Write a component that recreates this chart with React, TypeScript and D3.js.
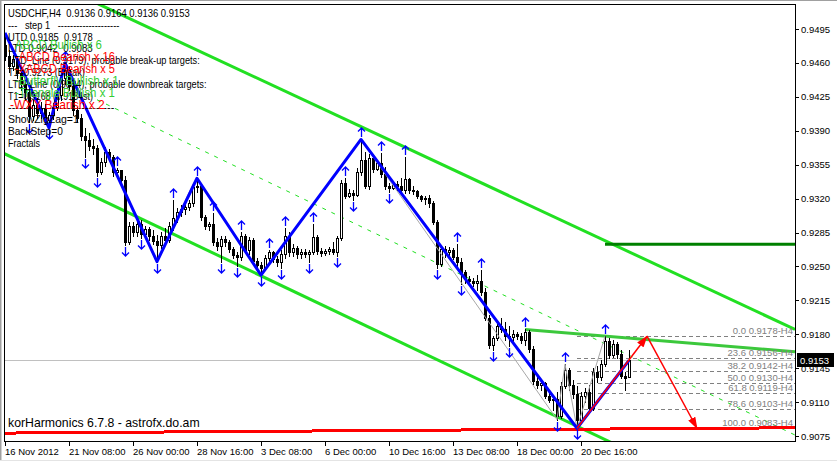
import React, { useRef, useLayoutEffect } from "react";
import * as d3 from "d3";

// USDCHF H4 candles, one per bar (bar 0 = 16 Nov 2012)
const opens = [
  0.9479, 0.9467, 0.9457, 0.9464, 0.945, 0.9438, 0.943, 0.9405, 0.9417, 0.9408,
  0.9413, 0.9401, 0.9406, 0.9415, 0.9427, 0.9444, 0.9453, 0.9436, 0.9411, 0.9403,
  0.9385, 0.938, 0.9374, 0.9372, 0.9347, 0.9358, 0.9368, 0.9363, 0.9347, 0.935,
  0.9339, 0.9275, 0.9292, 0.9286, 0.9294, 0.9283, 0.9289, 0.9281, 0.9276, 0.9272,
  0.9281, 0.9277, 0.9292, 0.93, 0.9306, 0.9309, 0.9311, 0.9315, 0.9332, 0.9333,
  0.9301, 0.9292, 0.9294, 0.9275, 0.9271, 0.9278, 0.9275, 0.9268, 0.9262, 0.926,
  0.9281, 0.9267, 0.9277, 0.9256, 0.9251, 0.9248, 0.9259, 0.9265, 0.9258, 0.9255,
  0.9263, 0.9281, 0.9265, 0.9269, 0.9263, 0.9265, 0.9263, 0.9265, 0.928, 0.9266,
  0.9264, 0.9266, 0.9268, 0.9265, 0.9279, 0.9336, 0.9323, 0.9326, 0.9324, 0.9347,
  0.936, 0.9333, 0.9362, 0.9351, 0.9357, 0.9345, 0.9333, 0.9331, 0.9335, 0.9333,
  0.9329, 0.934, 0.9329, 0.9328, 0.9323, 0.932, 0.9321, 0.9315, 0.9296, 0.9253,
  0.9268, 0.9265, 0.9267, 0.926, 0.9255, 0.9244, 0.9237, 0.9235, 0.9233, 0.9235,
  0.9224, 0.9197, 0.9169, 0.9176, 0.9189, 0.9185, 0.9178, 0.9177, 0.918, 0.9178,
  0.9174, 0.9182, 0.9165, 0.9132, 0.9128, 0.913, 0.9116, 0.9112, 0.9113, 0.9096,
  0.9127, 0.9143, 0.9128, 0.9118, 0.9092, 0.9116, 0.912, 0.9104, 0.9141, 0.9136,
  0.9149, 0.9173, 0.9159, 0.917, 0.916, 0.9137, 0.9136,
];
const highs = [
  0.9491, 0.9473, 0.9468, 0.9467, 0.9457, 0.9447, 0.9434, 0.9422, 0.9424, 0.942,
  0.9418, 0.9409, 0.9419, 0.943, 0.9451, 0.946, 0.9457, 0.9438, 0.9415, 0.9407,
  0.9393, 0.9388, 0.9382, 0.9375, 0.9362, 0.9373, 0.9371, 0.9365, 0.9352, 0.935,
  0.9343, 0.9296, 0.9296, 0.9298, 0.9298, 0.9292, 0.9291, 0.9288, 0.9282, 0.9286,
  0.929, 0.9296, 0.9319, 0.931, 0.9313, 0.9314, 0.9319, 0.9335, 0.9341, 0.9335,
  0.9303, 0.9296, 0.9305, 0.9279, 0.9281, 0.9281, 0.9277, 0.927, 0.9265, 0.9286,
  0.9283, 0.928, 0.9279, 0.9259, 0.9255, 0.9262, 0.9267, 0.9266, 0.9261, 0.9267,
  0.929, 0.9286, 0.9273, 0.9271, 0.9268, 0.9268, 0.9267, 0.9294, 0.9282, 0.9269,
  0.9268, 0.927, 0.9275, 0.9281, 0.9339, 0.9341, 0.933, 0.9329, 0.9352, 0.9381,
  0.9368, 0.9366, 0.9364, 0.936, 0.9367, 0.9353, 0.9336, 0.9337, 0.9338, 0.9341,
  0.9363, 0.9341, 0.9333, 0.9329, 0.9324, 0.9323, 0.9324, 0.9317, 0.9298, 0.9271,
  0.9271, 0.927, 0.9269, 0.9273, 0.9259, 0.9246, 0.924, 0.9238, 0.9241, 0.9246,
  0.9228, 0.92, 0.9178, 0.9192, 0.9197, 0.9193, 0.9189, 0.9184, 0.9182, 0.9181,
  0.9185, 0.9184, 0.9168, 0.9136, 0.9134, 0.9131, 0.9122, 0.9116, 0.912, 0.9131,
  0.9149, 0.9145, 0.9133, 0.9127, 0.912, 0.9125, 0.9128, 0.9145, 0.9147, 0.9153,
  0.9178, 0.9176, 0.9174, 0.9172, 0.9164, 0.9141, 0.9164,
];
const lows = [
  0.9463, 0.9451, 0.9453, 0.9444, 0.9432, 0.9422, 0.9399, 0.9401, 0.9403, 0.9403,
  0.9397, 0.9393, 0.9402, 0.9411, 0.9422, 0.9438, 0.9432, 0.9406, 0.9399, 0.938,
  0.9363, 0.937, 0.9366, 0.9343, 0.9345, 0.9354, 0.936, 0.9343, 0.9341, 0.9334,
  0.9272, 0.9273, 0.9281, 0.9281, 0.9279, 0.928, 0.9277, 0.9273, 0.9255, 0.9269,
  0.9273, 0.9275, 0.9288, 0.9296, 0.9302, 0.9304, 0.9308, 0.9312, 0.9327, 0.9298,
  0.9289, 0.9288, 0.9272, 0.9267, 0.9255, 0.9271, 0.9265, 0.9259, 0.925, 0.9257,
  0.9265, 0.9263, 0.9253, 0.9248, 0.9241, 0.9246, 0.9255, 0.9255, 0.925, 0.9248,
  0.9259, 0.9261, 0.9261, 0.9259, 0.9259, 0.926, 0.9255, 0.9263, 0.9263, 0.9261,
  0.9262, 0.9263, 0.9263, 0.9261, 0.9277, 0.9321, 0.9322, 0.9319, 0.9323, 0.9344,
  0.9331, 0.933, 0.9347, 0.9349, 0.9342, 0.933, 0.9327, 0.933, 0.9329, 0.9328,
  0.9326, 0.9326, 0.9325, 0.9321, 0.9317, 0.9314, 0.9311, 0.9294, 0.9248, 0.925,
  0.926, 0.9259, 0.9258, 0.925, 0.9232, 0.9233, 0.9232, 0.923, 0.9226, 0.922,
  0.9195, 0.9166, 0.9164, 0.9174, 0.9182, 0.9174, 0.9168, 0.9172, 0.9175, 0.9171,
  0.9169, 0.9162, 0.9129, 0.9125, 0.9122, 0.9114, 0.911, 0.9102, 0.9092, 0.9094,
  0.9125, 0.9122, 0.9114, 0.9083, 0.9089, 0.911, 0.91, 0.9102, 0.9131, 0.9133,
  0.9147, 0.9156, 0.9157, 0.9156, 0.9135, 0.9122, 0.9136,
];
const closes = [
  0.9467, 0.9457, 0.9464, 0.945, 0.9438, 0.943, 0.9405, 0.9417, 0.9408, 0.9413,
  0.9401, 0.9406, 0.9415, 0.9427, 0.9444, 0.9453, 0.9436, 0.9411, 0.9403, 0.9385,
  0.938, 0.9374, 0.9372, 0.9347, 0.9358, 0.9368, 0.9363, 0.9347, 0.935, 0.9339,
  0.9275, 0.9292, 0.9286, 0.9294, 0.9283, 0.9289, 0.9281, 0.9276, 0.9272, 0.9281,
  0.9277, 0.9292, 0.93, 0.9306, 0.9309, 0.9311, 0.9315, 0.9332, 0.9333, 0.9301,
  0.9292, 0.9294, 0.9275, 0.9271, 0.9278, 0.9275, 0.9268, 0.9262, 0.926, 0.9281,
  0.9267, 0.9277, 0.9256, 0.9251, 0.9248, 0.9259, 0.9265, 0.9258, 0.9255, 0.9263,
  0.9281, 0.9265, 0.9269, 0.9263, 0.9265, 0.9263, 0.9265, 0.928, 0.9266, 0.9264,
  0.9266, 0.9268, 0.9265, 0.9279, 0.9336, 0.9323, 0.9326, 0.9324, 0.9347, 0.936,
  0.9333, 0.9362, 0.9351, 0.9357, 0.9345, 0.9333, 0.9331, 0.9335, 0.9333, 0.9329,
  0.934, 0.9329, 0.9328, 0.9323, 0.932, 0.9321, 0.9315, 0.9296, 0.9253, 0.9268,
  0.9265, 0.9267, 0.926, 0.9255, 0.9244, 0.9237, 0.9235, 0.9233, 0.9235, 0.9224,
  0.9197, 0.9169, 0.9176, 0.9189, 0.9185, 0.9178, 0.9177, 0.918, 0.9178, 0.9174,
  0.9182, 0.9165, 0.9132, 0.9128, 0.913, 0.9116, 0.9112, 0.9113, 0.9096, 0.9127,
  0.9143, 0.9128, 0.9118, 0.9092, 0.9116, 0.912, 0.9104, 0.9141, 0.9136, 0.9149,
  0.9173, 0.9159, 0.917, 0.916, 0.9137, 0.9135, 0.9153,
];

// fractal marks (bar indices)
const upFractals = [15, 28, 42, 48, 52, 59, 66, 70, 77, 85, 89, 94, 100, 113, 119, 130, 140, 150];
const downFractals = [6, 11, 20, 23, 30, 34, 38, 54, 58, 64, 69, 76, 83, 87, 96, 108, 114, 122, 126, 138, 143];

// zigzag swings: [bar, price]
const zigzagBlue: [number, number][] = [
  [0, 0.9491], [11, 0.9393], [15, 0.946], [38, 0.9255], [48, 0.9341],
  [64, 0.9241], [89, 0.9381], [143, 0.9083], [156, 0.9153],
];
const zigzagGray: [number, number][] = [
  [0, 0.9491], [11, 0.9393], [15, 0.946], [38, 0.9255], [47, 0.9335], [48, 0.9341],
  [64, 0.9241], [89, 0.9381], [138, 0.9092], [140, 0.9149], [143, 0.9083], [150, 0.9178],
];
const projection: [number, number][] = [[143, 0.9083], [160.5, 0.9178], [173, 0.9083]];

// channel / trend lines: [bar, price] pairs
const channelUpper: [number, number][] = [[23.25, 0.9521], [197.5, 0.9185]];
const channelLower: [number, number][] = [[-0.5, 0.9367], [197.5, 0.8978]];
const channelMid: [number, number][] = [[23, 0.9422], [197.5, 0.9076]];
const utdLine: [number, number][] = [[130, 0.9185], [197.5, 0.9162]];
const ltdLine: [number, number][] = [[-0.5, 0.9078], [197.5, 0.90835]];
const targetLine: [number, number][] = [[150, 0.9273], [197.5, 0.9273]];

const fibNames = ["0.0", "23.6", "38.2", "50.0", "61.8", "78.6", "100.0"];
const fibPrices = [0.9178, 0.9156, 0.9142, 0.913, 0.9119, 0.9103, 0.9083];

const priceTicks = [0.9495, 0.946, 0.9425, 0.939, 0.9355, 0.932, 0.9285, 0.925, 0.9215, 0.918, 0.9145, 0.911, 0.9075];
const timeBars = [0, 16, 32, 48, 64, 80, 96, 112, 128, 144];
const timeLabels = [
  "16 Nov 2012", "21 Nov 08:00", "26 Nov 00:00", "28 Nov 16:00", "3 Dec 08:00",
  "6 Dec 00:00", "10 Dec 16:00", "13 Dec 08:00", "18 Dec 00:00", "20 Dec 16:00",
];
const lastPrice = 0.9153;

const NB = "\u00a0";
const infoLines = [
  `USDCHF,H4${NB}${NB}0.9136${NB}0.9164${NB}0.9136${NB}0.9153`,
  `---${NB}${NB}${NB}step${NB}1${NB}${NB}${NB}--------------------`,
  `UTD${NB}0.9185${NB}${NB}0.9178`,
  `LTD${NB}0.9042${NB}${NB}0.9083`,
  "UTD_Line (0.9179), probable break-up targets:",
  "T1=0.9273 (Break)",
  "LTD_Line (0.9084), probable downbreak targets:",
  "T1=0.9168 (0.9134st)",
  "-----------------------------",
  "ShowZigZag=1",
  "BackStep=0",
  "Fractals",
];
// measured widths of the info lines in the reference (px)
const infoWidths = [182, 112, 85, 85, 192, 77, 199, 85, 107, 71, 55, 32];
const patternLines = [
  "ABCD Bullish x 6",
  "-ABCD Bearish x 16",
  "-XABCD Bearish x 5",
  "-Butterfly Bullish x 1",
  "-Triangle Bullish x 1",
  "-WXY Bearish x 2",
];
const patternColors = ["#33cc33", "#ff0000", "#ff0000", "#33cc33", "#33cc33", "#ff0000"];
const patternWidths = [87, 100, 100, 104, 100, 95];

const PL = 4, PT = 4, PR = 795, PB = 441;
const FONT = "'Liberation Sans', Arial, sans-serif";

const App = () => {
  const svgRef = useRef<SVGSVGElement | null>(null);
  const x = d3.scaleLinear().domain([0, 156]).range([5, 629]);
  const y = d3.scaleLinear().domain([0.9075, 0.9495]).range([436, 29]);
  const line = d3.line<[number, number]>().x((d) => x(d[0])).y((d) => y(d[1]));

  // stretch overlay texts horizontally to the widths seen in the reference
  useLayoutEffect(() => {
    if (!svgRef.current) return;
    d3.select(svgRef.current)
      .selectAll<SVGTextElement, unknown>("text[data-w]")
      .each(function () {
        const target = +(this.getAttribute("data-w") || 0);
        const x0 = +(this.getAttribute("x") || 0);
        const w = this.getBBox().width;
        if (w > 0 && target > 0) {
          const k = target / w;
          this.setAttribute("transform", `translate(${x0},0) scale(${k},1) translate(${-x0},0)`);
        }
      });
  }, []);

  return (
    <svg
      ref={svgRef}
      width={837}
      height={461}
      style={{ position: "fixed", left: 0, top: 0, background: "#fff" }}
      fontFamily={FONT}
    >
      <defs>
        <clipPath id="plot">
          <rect x={PL} y={PT} width={PR - PL} height={PB - PT} />
        </clipPath>
        <marker id="arrow" viewBox="0 0 12 8" refX="11" refY="4" markerWidth="12" markerHeight="8"
          markerUnits="userSpaceOnUse" orient="auto">
          <path d="M0,0 L12,4 L0,8 z" fill="#ff0000" />
        </marker>
      </defs>

      {/* window frame */}
      <rect x={0} y={0} width={837} height={461} fill="#fff" />
      <line x1={0} x2={837} y1={0.5} y2={0.5} stroke="#a0a0a0" />
      <line x1={0.5} x2={0.5} y1={0} y2={461} stroke="#a0a0a0" />
      <line x1={1.5} x2={1.5} y1={1} y2={461} stroke="#d0d0d0" />
      <line x1={0} x2={837} y1={460.5} y2={460.5} stroke="#e4e4e4" />

      <g clipPath="url(#plot)">
        {/* current price line */}
        <line x1={PL} x2={PR} y1={Math.round(y(lastPrice)) + 0.5} y2={Math.round(y(lastPrice)) + 0.5} stroke="#c0c0c0" />

        {/* fibo levels */}
        {fibPrices.map((p, i) => (
          <line key={i} x1={x(143)} x2={PR} y1={Math.round(y(p)) + 0.5} y2={Math.round(y(p)) + 0.5}
            stroke="#808080" strokeDasharray="4,3" />
        ))}

        <path d={line(channelMid) ?? ""} stroke="#22e022" strokeWidth={1} strokeDasharray="4,6" fill="none" />
        <path d={line(channelUpper) ?? ""} stroke="#22e022" strokeWidth={3} fill="none" />
        <path d={line(channelLower) ?? ""} stroke="#22e022" strokeWidth={3} fill="none" />
        <path d={line(targetLine) ?? ""} stroke="#008000" strokeWidth={3} fill="none" />
        <path d={line(utdLine) ?? ""} stroke="#3cc83c" strokeWidth={3} fill="none" />
        <path d={line(ltdLine) ?? ""} stroke="#ff0000" strokeWidth={3} fill="none" shapeRendering="crispEdges" />

        {/* candles */}
        {opens.map((o, i) => {
          const c = closes[i];
          const cx = Math.round(x(i));
          const yh = Math.round(y(highs[i]));
          const yl = Math.round(y(lows[i]));
          const top = Math.round(y(Math.max(o, c)));
          const bot = Math.round(y(Math.min(o, c)));
          return (
            <g key={i} shapeRendering="crispEdges">
              <line x1={cx + 0.5} x2={cx + 0.5} y1={yh} y2={yl + 1} stroke="#000" />
              {bot - top < 1 ? (
                <line x1={cx - 1} x2={cx + 2} y1={top + 0.5} y2={top + 0.5} stroke="#000" />
              ) : (
                <rect x={cx - 0.5} y={top + 0.5} width={2} height={bot - top}
                  fill={c > o ? "#fff" : "#000"} stroke="#000" />
              )}
            </g>
          );
        })}

        <path d={line(zigzagGray) ?? ""} stroke="#a8a8a8" strokeWidth={1} fill="none" />
        <path d={line(zigzagBlue) ?? ""} stroke="#0000ff" strokeWidth={3} fill="none" strokeLinejoin="round" />

        {/* fractals */}
        {upFractals.map((b) => {
          const cx = Math.round(x(b)) + 0.5;
          const tip = Math.round(y(highs[b])) - 11;
          return (
            <path key={"u" + b} d={`M${cx - 3.5},${tip + 3.5} L${cx},${tip} L${cx + 3.5},${tip + 3.5} M${cx},${tip} L${cx},${tip + 9}`}
              stroke="#0000ff" strokeWidth={1.3} fill="none" />
          );
        })}
        {downFractals.map((b) => {
          const cx = Math.round(x(b)) + 0.5;
          const tip = Math.round(y(lows[b])) + 11;
          return (
            <path key={"d" + b} d={`M${cx - 3.5},${tip - 3.5} L${cx},${tip} L${cx + 3.5},${tip - 3.5} M${cx},${tip} L${cx},${tip - 9}`}
              stroke="#0000ff" strokeWidth={1.3} fill="none" />
          );
        })}

        {/* projection arrows */}
        {projection.slice(1).map((p, i) => (
          <path key={i} d={line([projection[i], p]) ?? ""} stroke="#ff0000" strokeWidth={1.5} fill="none"
            markerEnd="url(#arrow)" />
        ))}

        {/* fibo labels */}
        {fibPrices.map((p, i) => (
          <text key={i} x={793} y={Math.round(y(p)) - 2} textAnchor="end" fontSize={9.5} fill="#808080">
            {`${fibNames[i]} ${p.toFixed(4)}-H4`}
          </text>
        ))}
      </g>

      {/* plot frame */}
      <rect x={PL + 0.5} y={PT + 0.5} width={PR - PL} height={PB - PT} fill="none" stroke="#000" shapeRendering="crispEdges" />

      {/* price axis */}
      {priceTicks.map((p) => (
        <g key={p}>
          <line x1={PR} x2={PR + 4} y1={Math.round(y(p)) + 0.5} y2={Math.round(y(p)) + 0.5} stroke="#000" />
          <text x={801} y={y(p) + 3.5} fontSize={9.5} fill="#000">{p.toFixed(4)}</text>
        </g>
      ))}
      <rect x={797} y={Math.round(y(lastPrice)) - 7} width={37} height={14} fill="#000" />
      <text x={800} y={y(lastPrice) + 3.5} fontSize={9.5} fill="#fff">{lastPrice.toFixed(4)}</text>

      {/* time axis */}
      {timeBars.map((b, i) => (
        <g key={b}>
          <line x1={Math.round(x(b)) + 0.5} x2={Math.round(x(b)) + 0.5} y1={PB} y2={PB + 5} stroke="#000" />
          <text x={Math.round(x(b))} y={455} fontSize={9.5} fill="#000">{timeLabels[i]}</text>
        </g>
      ))}

      {/* info text */}
      {infoLines.map((t, i) => (
        <text key={i} x={8} y={17 + i * 11.8} fontSize={10.5} fill="#000" data-w={infoWidths[i]}>{t}</text>
      ))}
      {patternLines.map((t, i) => (
        <text key={i} x={i === 5 ? 10 : 15} y={49 + i * 12} fontSize={12.5} fill={patternColors[i]}
          data-w={patternWidths[i]}>{t}</text>
      ))}
      <text x={8} y={427} fontSize={12} fill="#000" data-w={192}>
        korHarmonics 6.7.8 - astrofx.do.am
      </text>
    </svg>
  );
};

export default App;
